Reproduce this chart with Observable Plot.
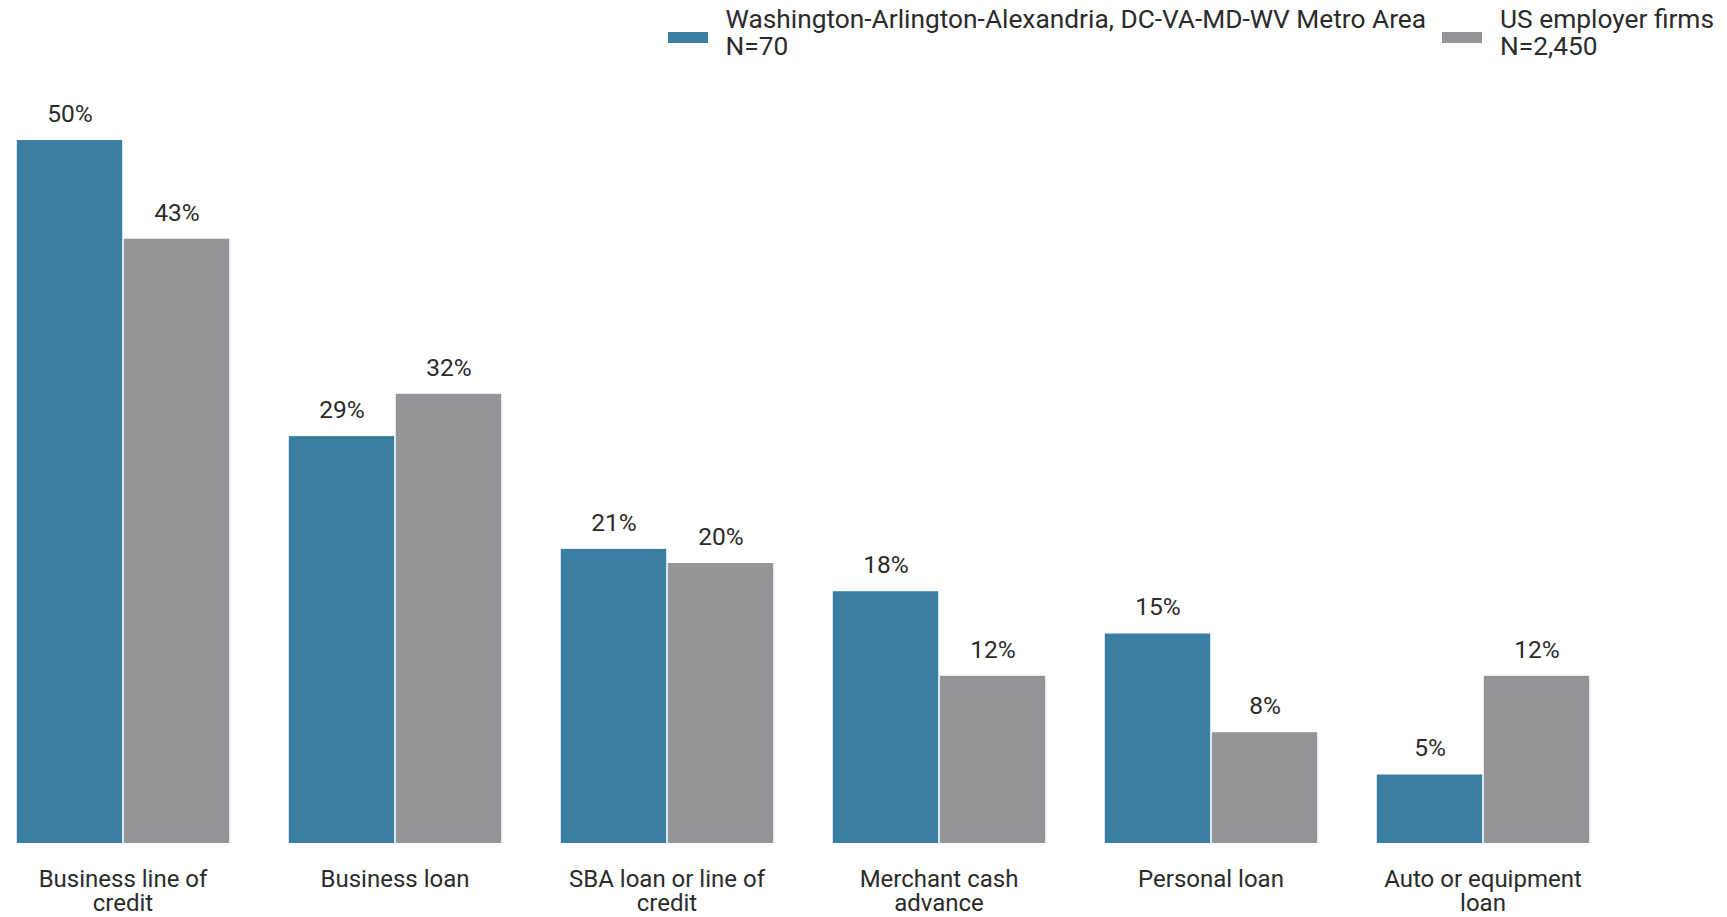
<!DOCTYPE html>
<html>
<head>
<meta charset="utf-8">
<script src="https://cdn.jsdelivr.net/npm/d3@7"></script>
<script src="https://cdn.jsdelivr.net/npm/@observablehq/plot@0.6"></script>
<style>
  html, body { margin: 0; padding: 0; background: #fff; }
  body { font-family: Roboto, "Noto Sans", sans-serif; color: #2b2b2b; width: 1727px; }
  #legend { height: 60px; display: flex; justify-content: flex-end; align-items: flex-start; padding-right: 13px; box-sizing: border-box; }
  .item { display: flex; align-items: flex-start; margin-left: 16px; }
  .sw { width: 40px; height: 11px; margin-top: 32px; margin-right: 18px; flex: none; }
  .lbl { font-size: 26.3px; line-height: 27px; margin-top: 6px; white-space: nowrap; }
  #chart svg { display: block; }
</style>
</head>
<body>
<div id="legend"></div>
<div id="chart"></div>
<script>
const categories = [
  "Business line of credit",
  "Business loan",
  "SBA loan or line of credit",
  "Merchant cash advance",
  "Personal loan",
  "Auto or equipment loan"
];
const categoryLabels = [
  "Business line of\ncredit",
  "Business loan",
  "SBA loan or line of\ncredit",
  "Merchant cash\nadvance",
  "Personal loan",
  "Auto or equipment\nloan"
];
const series = [
  "Washington-Arlington-Alexandria, DC-VA-MD-WV Metro Area",
  "US employer firms"
];
const seriesN = ["N=70", "N=2,450"];
const seriesColors = ["#3a7ea1", "#949599"];
const metroValues = [50, 29, 21, 18, 15, 5];
const usValues = [43, 32, 20, 12, 8, 12];

const data = [];
categories.forEach((c, i) => {
  data.push({category: c, series: series[0], value: metroValues[i]});
  data.push({category: c, series: series[1], value: usValues[i]});
});
const labelOf = new Map(categories.map((c, i) => [c, categoryLabels[i]]));

// legend
const legend = document.getElementById("legend");
series.forEach((s, i) => {
  const item = document.createElement("div");
  item.className = "item";
  const sw = document.createElement("div");
  sw.className = "sw";
  sw.style.background = seriesColors[i];
  const lbl = document.createElement("div");
  lbl.className = "lbl";
  lbl.innerHTML = s + "<br>" + seriesN[i];
  item.appendChild(sw);
  item.appendChild(lbl);
  legend.appendChild(item);
});

const chart = Plot.plot({
  width: 1727,
  height: 857,
  marginLeft: 15,
  marginRight: 137,
  marginTop: 78,
  marginBottom: 74,
  style: {fontFamily: "Roboto, 'Noto Sans', sans-serif", background: "#fff", overflow: "visible"},
  fx: {domain: categories, paddingInner: 0.211, paddingOuter: 0, label: null},
  x: {domain: series, padding: 0, axis: null},
  y: {domain: [0, 50], axis: null},
  color: {domain: series, range: seriesColors},
  marks: [
    Plot.barY(data, {
      fx: "category", x: "series", y: "value", fill: "series",
      insetLeft: 0.8, insetRight: 0.8, insetTop: 2
    }),
    Plot.text(data, {
      fx: "category", x: "series", y: "value",
      text: d => d.value + "%",
      dy: -24.5, lineAnchor: "middle", fontSize: 24.5, fill: "#2b2b2b"
    }),
    Plot.axisFx({
      anchor: "bottom", tickSize: 0, tickPadding: 25.5, label: null,
      tickFormat: d => labelOf.get(d), fontSize: 24, lineHeight: 1.03,
      fill: "#2b2b2b"
    })
  ]
});
document.getElementById("chart").appendChild(chart);
</script>
</body>
</html>
